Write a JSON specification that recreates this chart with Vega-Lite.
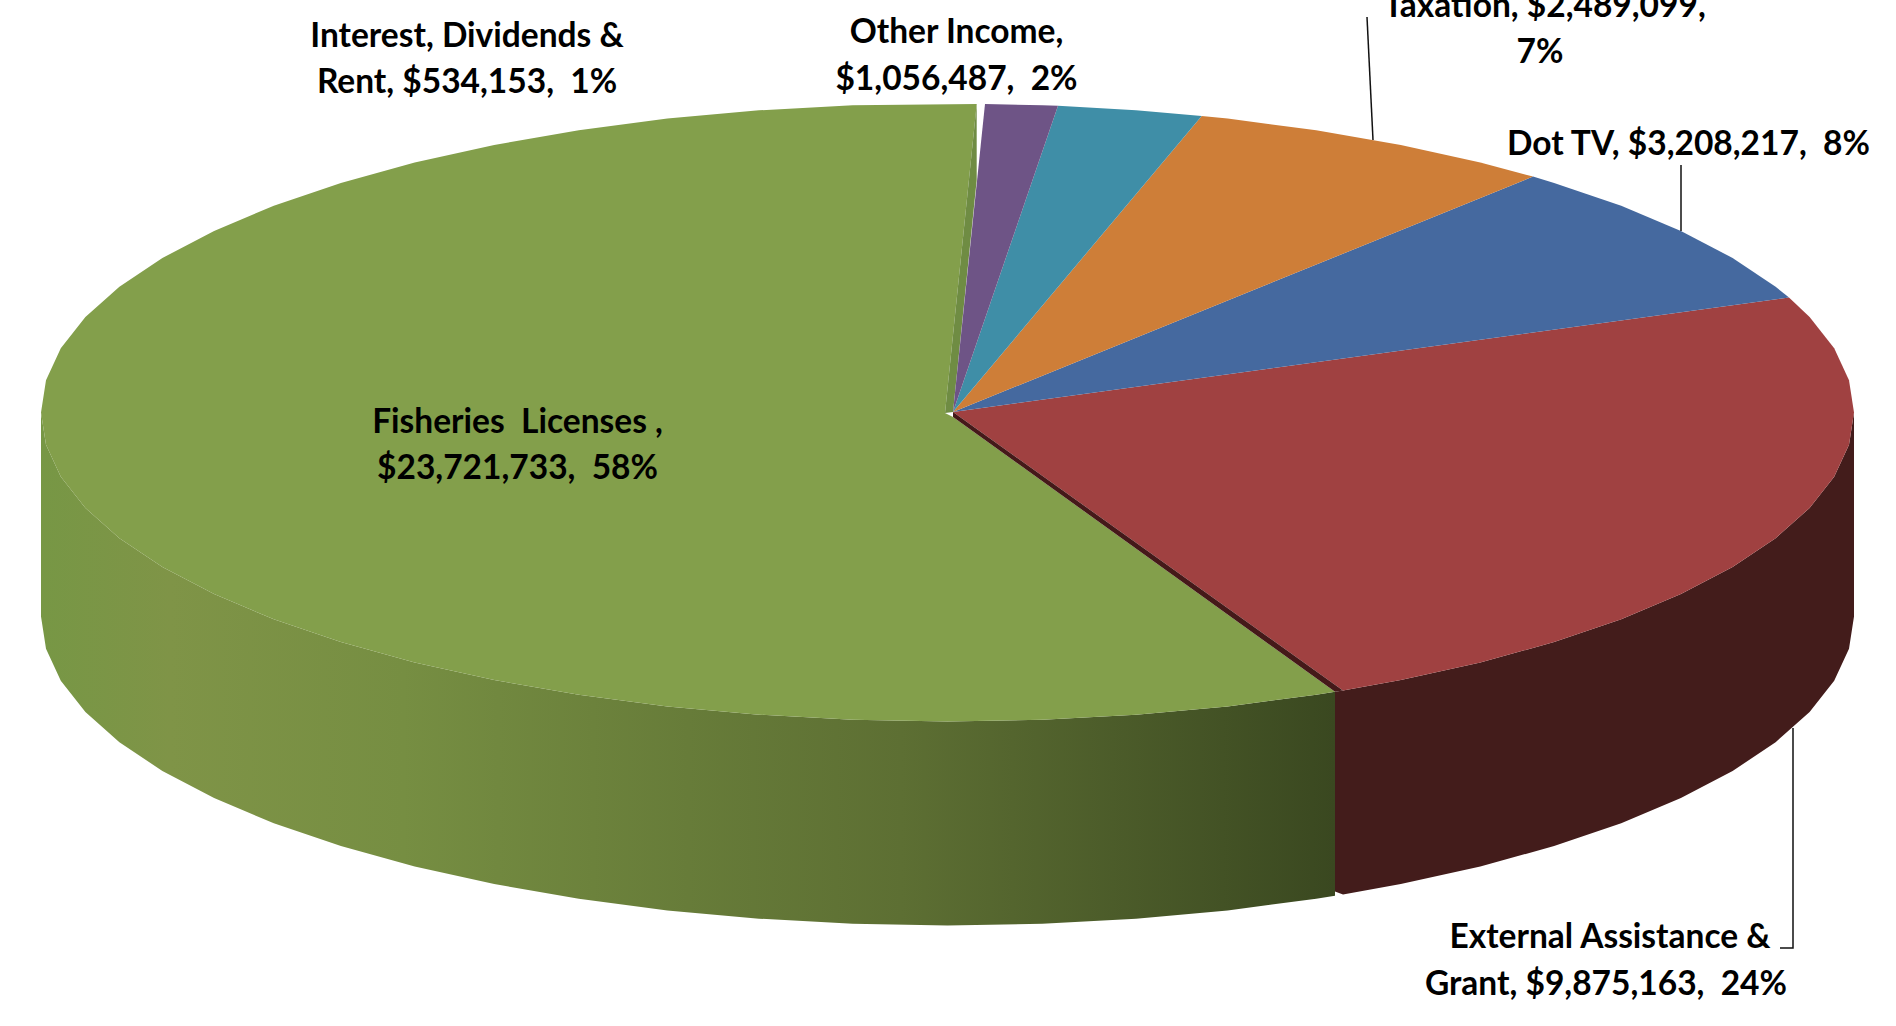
{"$schema":"https://vega.github.io/schema/vega-lite/v6.json","width":1896,"height":1026,"padding":0,"autosize":"none","background":"white","config":{"view":{"stroke":null}},
"datasets":{
"rimGreen":[{"x":41,"y":412.5,"y2":616.5},{"x":46,"y":444.8,"y2":648.8},{"x":60.8,"y":476.7,"y2":680.7},{"x":85.4,"y":508,"y2":712},{"x":119.4,"y":538.2,"y2":742.2},{"x":162.4,"y":567,"y2":771},{"x":214.1,"y":594.1,"y2":798.1},{"x":273.8,"y":619.3,"y2":823.3},{"x":340.9,"y":642.1,"y2":846.1},{"x":414.7,"y":662.5,"y2":866.5},{"x":494.2,"y":680.1,"y2":884.1},{"x":578.8,"y":694.8,"y2":898.8},{"x":667.4,"y":706.4,"y2":910.4},{"x":759,"y":714.7,"y2":918.7},{"x":852.7,"y":719.8,"y2":923.8},{"x":947.5,"y":721.5,"y2":925.5},{"x":1042.3,"y":719.8,"y2":923.8},{"x":1136,"y":714.7,"y2":918.7},{"x":1227.6,"y":706.4,"y2":910.4},{"x":1316.2,"y":694.8,"y2":898.8},{"x":1335,"y":691.7,"y2":895.7}],
"rimRed":[{"x":1335,"y":691.7,"y2":891.5},{"x":1343,"y":690.5,"y2":894.5},{"x":1400.8,"y":680.1,"y2":884.1},{"x":1480.3,"y":662.5,"y2":866.5},{"x":1554.1,"y":642.1,"y2":846.1},{"x":1621.2,"y":619.3,"y2":823.3},{"x":1680.9,"y":594.1,"y2":798.1},{"x":1732.6,"y":567,"y2":771},{"x":1775.6,"y":538.2,"y2":742.2},{"x":1809.6,"y":508,"y2":712},{"x":1834.2,"y":476.7,"y2":680.7},{"x":1849,"y":444.8,"y2":648.8},{"x":1854,"y":412.5,"y2":616.5}],
"faces":[
{"s":"Fisheries Licenses","i":1,"x":976.7,"y":104},{"s":"Fisheries Licenses","i":2,"x":852.7,"y":105.2},{"s":"Fisheries Licenses","i":3,"x":759,"y":110.3},{"s":"Fisheries Licenses","i":4,"x":667.4,"y":118.6},{"s":"Fisheries Licenses","i":5,"x":578.8,"y":130.2},{"s":"Fisheries Licenses","i":6,"x":494.2,"y":144.9},{"s":"Fisheries Licenses","i":7,"x":414.7,"y":162.5},{"s":"Fisheries Licenses","i":8,"x":340.9,"y":182.9},{"s":"Fisheries Licenses","i":9,"x":273.8,"y":205.7},{"s":"Fisheries Licenses","i":10,"x":214.1,"y":230.9},{"s":"Fisheries Licenses","i":11,"x":162.4,"y":258},{"s":"Fisheries Licenses","i":12,"x":119.4,"y":286.8},{"s":"Fisheries Licenses","i":13,"x":85.4,"y":317},{"s":"Fisheries Licenses","i":14,"x":60.8,"y":348.3},{"s":"Fisheries Licenses","i":15,"x":46,"y":380.2},{"s":"Fisheries Licenses","i":16,"x":41,"y":412.5},{"s":"Fisheries Licenses","i":17,"x":46,"y":444.8},{"s":"Fisheries Licenses","i":18,"x":60.8,"y":476.7},{"s":"Fisheries Licenses","i":19,"x":85.4,"y":508},{"s":"Fisheries Licenses","i":20,"x":119.4,"y":538.2},{"s":"Fisheries Licenses","i":21,"x":162.4,"y":567},{"s":"Fisheries Licenses","i":22,"x":214.1,"y":594.1},{"s":"Fisheries Licenses","i":23,"x":273.8,"y":619.3},{"s":"Fisheries Licenses","i":24,"x":340.9,"y":642.1},{"s":"Fisheries Licenses","i":25,"x":414.7,"y":662.5},{"s":"Fisheries Licenses","i":26,"x":494.2,"y":680.1},{"s":"Fisheries Licenses","i":27,"x":578.8,"y":694.8},{"s":"Fisheries Licenses","i":28,"x":667.4,"y":706.4},{"s":"Fisheries Licenses","i":29,"x":759,"y":714.7},{"s":"Fisheries Licenses","i":30,"x":852.7,"y":719.8},{"s":"Fisheries Licenses","i":31,"x":947.5,"y":721.5},{"s":"Fisheries Licenses","i":32,"x":1042.3,"y":719.8},{"s":"Fisheries Licenses","i":33,"x":1136,"y":714.7},{"s":"Fisheries Licenses","i":34,"x":1227.6,"y":706.4},{"s":"Fisheries Licenses","i":35,"x":1316.2,"y":694.8},{"s":"Fisheries Licenses","i":36,"x":1335,"y":691.7},{"s":"Fisheries Licenses","i":37,"x":953,"y":417},{"s":"Fisheries Licenses","i":38,"x":945,"y":413},
{"s":"Fisheries wall","i":1,"x":976.7,"y":104},{"s":"Fisheries wall","i":2,"x":976.7,"y":180},{"s":"Fisheries wall","i":3,"x":953,"y":412},{"s":"Fisheries wall","i":4,"x":945,"y":413},
{"s":"External Assistance & Grant","i":1,"x":1789,"y":297.5},{"s":"External Assistance & Grant","i":2,"x":1809.6,"y":317},{"s":"External Assistance & Grant","i":3,"x":1834.2,"y":348.3},{"s":"External Assistance & Grant","i":4,"x":1849,"y":380.2},{"s":"External Assistance & Grant","i":5,"x":1854,"y":412.5},{"s":"External Assistance & Grant","i":6,"x":1849,"y":444.8},{"s":"External Assistance & Grant","i":7,"x":1834.2,"y":476.7},{"s":"External Assistance & Grant","i":8,"x":1809.6,"y":508},{"s":"External Assistance & Grant","i":9,"x":1775.6,"y":538.2},{"s":"External Assistance & Grant","i":10,"x":1732.6,"y":567},{"s":"External Assistance & Grant","i":11,"x":1680.9,"y":594.1},{"s":"External Assistance & Grant","i":12,"x":1621.2,"y":619.3},{"s":"External Assistance & Grant","i":13,"x":1554.1,"y":642.1},{"s":"External Assistance & Grant","i":14,"x":1480.3,"y":662.5},{"s":"External Assistance & Grant","i":15,"x":1400.8,"y":680.1},{"s":"External Assistance & Grant","i":16,"x":1343,"y":690.5},{"s":"External Assistance & Grant","i":17,"x":953,"y":412},
{"s":"External wall","i":1,"x":953,"y":412},{"s":"External wall","i":2,"x":1343,"y":690.5},{"s":"External wall","i":3,"x":1335,"y":691.7},{"s":"External wall","i":4,"x":953,"y":417},
{"s":"Dot TV","i":1,"x":1533,"y":176.6},{"s":"Dot TV","i":2,"x":1554.1,"y":182.9},{"s":"Dot TV","i":3,"x":1621.2,"y":205.7},{"s":"Dot TV","i":4,"x":1680.9,"y":230.9},{"s":"Dot TV","i":5,"x":1732.6,"y":258},{"s":"Dot TV","i":6,"x":1775.6,"y":286.8},{"s":"Dot TV","i":7,"x":1789,"y":297.5},{"s":"Dot TV","i":8,"x":953,"y":412},
{"s":"Taxation","i":1,"x":1201.7,"y":116},{"s":"Taxation","i":2,"x":1227.6,"y":118.6},{"s":"Taxation","i":3,"x":1316.2,"y":130.2},{"s":"Taxation","i":4,"x":1400.8,"y":144.9},{"s":"Taxation","i":5,"x":1480.3,"y":162.5},{"s":"Taxation","i":6,"x":1533,"y":176.6},{"s":"Taxation","i":7,"x":953,"y":412},
{"s":"Teal slice","i":1,"x":1058,"y":105.8},{"s":"Teal slice","i":2,"x":1136,"y":110.3},{"s":"Teal slice","i":3,"x":1201.7,"y":116},{"s":"Teal slice","i":4,"x":953,"y":412},
{"s":"Other Income","i":1,"x":985,"y":104},{"s":"Other Income","i":2,"x":1042.3,"y":105.2},{"s":"Other Income","i":3,"x":1058,"y":105.8},{"s":"Other Income","i":4,"x":953,"y":412}],
"leaders":[
{"l":"Taxation","i":1,"x":1367,"y":17},{"l":"Taxation","i":2,"x":1373,"y":140},
{"l":"Dot TV","i":1,"x":1681,"y":165},{"l":"Dot TV","i":2,"x":1681,"y":231},
{"l":"External","i":1,"x":1793,"y":728},{"l":"External","i":2,"x":1793,"y":948},{"l":"External","i":3,"x":1780,"y":948}],
"labels":[
{"t":"Interest, Dividends &","x":467,"y":47},{"t":"Rent, $534,153, \u00a01%","x":467,"y":93},
{"t":"Other Income,","x":956.5,"y":43},{"t":"$1,056,487, \u00a02%","x":956.5,"y":90},
{"t":"Taxation, $2,489,099,","x":1544.6,"y":17},{"t":"7%","x":1540,"y":63},
{"t":"Dot TV, $3,208,217, \u00a08%","x":1688.5,"y":155},
{"t":"Fisheries \u00a0Licenses ,","x":517.5,"y":433},{"t":"$23,721,733, \u00a058%","x":517.5,"y":479},
{"t":"External Assistance &","x":1610,"y":948},{"t":"Grant, $9,875,163, \u00a024%","x":1606,"y":995}]
},
"encoding":{
"x":{"field":"x","type":"quantitative","scale":{"domain":[0,1896],"nice":false,"zero":false},"axis":null},
"y":{"field":"y","type":"quantitative","scale":{"domain":[1026,0],"nice":false,"zero":false},"axis":null}
},
"layer":[
{"data":{"name":"rimGreen"},"mark":{"type":"area","fill":{"gradient":"linear","x1":0,"x2":1,"y1":0,"y2":0,"stops":[{"offset":0,"color":"#779745"},{"offset":0.1,"color":"#7f9447"},{"offset":0.28,"color":"#768e42"},{"offset":0.5,"color":"#677c39"},{"offset":0.665,"color":"#5d6f33"},{"offset":1,"color":"#3a4820"}]}},"encoding":{"y2":{"field":"y2"}}},
{"data":{"name":"rimRed"},"mark":{"type":"area","fill":"#431c1b"},"encoding":{"y2":{"field":"y2"}}},
{"data":{"name":"faces"},"mark":{"type":"line","interpolate":"linear-closed","strokeWidth":0},"encoding":{"order":{"field":"i","type":"quantitative"},"detail":{"field":"s"},"fill":{"field":"s","type":"nominal","legend":null,"scale":{"domain":["Fisheries Licenses","Fisheries wall","External Assistance & Grant","External wall","Dot TV","Taxation","Teal slice","Other Income"],"range":["#839f4b","#6f8c43","#a04141","#451919","#45699f","#ce7e38","#3f8ea7","#6e5486"]}}}},
{"data":{"name":"leaders"},"mark":{"type":"line","color":"#111111","strokeWidth":1.5},"encoding":{"order":{"field":"i","type":"quantitative"},"detail":{"field":"l"}}},
{"data":{"name":"labels"},"mark":{"type":"text","font":"Lato","fontWeight":"bold","fontSize":33.5,"align":"center","baseline":"alphabetic","color":"#000000"},"encoding":{"text":{"field":"t"}}}
]}
